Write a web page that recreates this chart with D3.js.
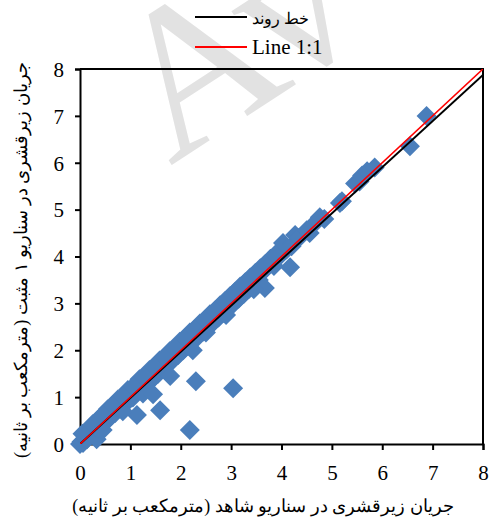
<!DOCTYPE html>
<html>
<head>
<meta charset="utf-8">
<script src="https://cdn.jsdelivr.net/npm/d3@7/dist/d3.min.js"></script>
<style>
  html, body { margin: 0; padding: 0; background: #fff; }
  svg { display: block; }
</style>
</head>
<body>
<svg id="chart" width="491" height="520"></svg>
<script>
// Observed (control scenario) subsurface flow, m3/s
const observed = [
  0.00, 0.03, 0.06, 0.10, 0.14, 0.18, 0.22, 0.26, 0.33, 0.32, 0.36, 0.40, 0.45,
  0.50, 0.54, 0.58, 0.62, 0.66, 0.70, 0.74, 0.78, 0.82, 0.86, 0.90, 0.95,
  1.00, 1.05, 1.10, 1.13, 1.15, 1.20, 1.25, 1.30, 1.35, 1.40, 1.45, 1.50,
  1.55, 1.59, 1.60, 1.65, 1.70, 1.75, 1.80, 1.85, 1.90, 1.95, 2.00, 2.05,
  2.10, 2.15, 2.18, 2.20, 2.24, 2.30, 2.30, 2.35, 2.40, 2.45, 2.50, 2.55,
  2.60, 2.65, 2.70, 2.75, 2.80, 2.85, 2.90, 2.95, 3.00, 3.04, 3.05, 3.10,
  3.15, 3.20, 3.25, 3.30, 3.35, 3.40, 3.50, 3.55, 3.60, 3.67, 3.70, 3.80,
  3.85, 3.90, 4.00, 4.03, 4.10, 4.17, 4.20, 4.27, 4.35, 4.50, 4.56, 4.65,
  4.76, 4.85, 5.16, 5.20, 5.46, 5.55, 5.60, 5.70, 5.85, 6.55, 6.88,
  0.15, 0.35, 0.55, 0.75, 0.95, 1.18, 1.38, 1.58, 1.78, 1.98, 2.18, 2.38,
  2.58, 2.78, 2.98, 3.18, 3.38, 3.58, 3.78, 3.95,
  0.05, 0.25, 0.45, 0.65, 0.85, 1.05, 1.28, 1.48, 1.68, 1.88, 2.08, 2.28,
  2.48, 2.68, 2.88, 3.08, 3.28, 3.48, 3.68, 3.88,
  0.45, 0.85, 1.25, 1.45, 1.79, 2.50, 2.90, 3.45
];
// Scenario 1 (positive) subsurface flow, m3/s
const scenario1 = [
  0.00, 0.05, 0.02, 0.12, 0.10, 0.22, 0.20, 0.30, 0.10, 0.36, 0.33, 0.45, 0.42,
  0.55, 0.50, 0.63, 0.60, 0.72, 0.66, 0.80, 0.76, 0.88, 0.82, 0.97, 0.92,
  1.06, 0.99, 1.17, 0.62, 1.12, 1.27, 1.20, 1.37, 1.30, 1.47, 1.40, 1.57,
  1.50, 0.72, 1.66, 1.60, 1.77, 1.70, 1.86, 1.80, 1.96, 1.90, 2.07, 2.00,
  2.16, 2.10, 0.30, 2.26, 2.00, 1.34, 2.36, 2.30, 2.46, 2.40, 2.56, 2.50,
  2.66, 2.60, 2.76, 2.70, 2.86, 2.80, 2.96, 2.90, 3.06, 1.19, 3.00, 3.16,
  3.10, 3.25, 3.20, 3.36, 3.30, 3.45, 3.55, 3.50, 3.66, 3.33, 3.75, 3.86,
  3.80, 3.95, 4.05, 4.29, 4.15, 3.77, 4.22, 4.46, 4.40, 4.56, 4.50, 4.70,
  4.84, 4.80, 5.14, 5.18, 5.56, 5.60, 5.73, 5.82, 5.90, 6.35, 7.00,
  0.30, 0.52, 0.74, 0.95, 1.15, 1.38, 1.58, 1.78, 1.98, 2.18, 2.38, 2.57,
  2.77, 2.96, 3.16, 3.36, 3.55, 3.75, 3.95, 4.12,
  0.22, 0.42, 0.62, 0.82, 1.02, 1.22, 1.45, 1.65, 1.85, 2.05, 2.25, 2.45,
  2.65, 2.85, 3.05, 3.25, 3.45, 3.65, 3.84, 4.03,
  0.30, 0.70, 1.08, 1.06, 1.45, 2.38, 2.75, 3.30
];
const tickValues = [0, 1, 2, 3, 4, 5, 6, 7, 8];
const trendSlope = 0.984;
const legendLabels = ["خط روند", "Line 1:1"];
const xTitle = "جریان زیرقشری در سناریو شاهد (مترمکعب بر ثانیه)";
const yTitle = "جریان زیرقشری در سناریو ۱ مثبت (مترمکعب بر ثانیه)";
const watermark = "Av";

const svg = d3.select("#chart");
const serif = "Liberation Serif, Times New Roman, DejaVu Serif, serif";

const x = d3.scaleLinear().domain([0, 8]).range([80, 483]);
const y = d3.scaleLinear().domain([0, 8]).range([444, 69]);

// faint background watermark
svg.append("text")
  .attr("transform", "translate(170,166) rotate(-33)")
  .attr("font-family", serif)
  .attr("font-size", 210)
  .attr("fill", "#e2e2e2")
  .text(watermark);

// plot frame (top and right)
svg.append("path")
  .attr("d", `M${x(0)},${y(8)}H${x(8)}V${y(0)}`)
  .attr("fill", "none").attr("stroke", "#000").attr("stroke-width", 2);

// axes
const xAxis = d3.axisBottom(x).tickValues(tickValues).tickSize(6).tickPadding(15).tickFormat(d3.format("d"));
const yAxis = d3.axisLeft(y).tickValues(tickValues).tickSize(5).tickPadding(11).tickFormat(d3.format("d"));

const gx = svg.append("g").attr("transform", `translate(0,${y(0)})`).call(xAxis);
const gy = svg.append("g").attr("transform", `translate(${x(0)},0)`).call(yAxis);
[gx, gy].forEach(g => {
  g.attr("font-family", serif).attr("font-size", 21);
  g.select(".domain").attr("stroke", "#000").attr("stroke-width", 2);
  g.selectAll(".tick line").attr("stroke", "#000").attr("stroke-width", 2);
  g.selectAll(".tick text").attr("fill", "#000");
});
gy.selectAll(".tick text").attr("dy", "0.35em");

// scatter points (diamonds)
const pts = observed.map((v, i) => ({ x: v, y: scenario1[i] }));
svg.append("clipPath").attr("id", "plotclip")
  .append("rect").attr("x", x(0)).attr("y", y(8)).attr("width", x(8) - x(0)).attr("height", y(0) - y(8));

svg.append("g").selectAll("path").data(pts).join("path")
  .attr("transform", d => `translate(${x(d.x)},${y(d.y)})`)
  .attr("d", "M0,-10L10,0L0,10L-10,0Z")
  .attr("fill", "#4a7ebb");

// trend line and 1:1 line
const line = d3.line().x(d => x(d[0])).y(d => y(d[1]));
const lines = svg.append("g").attr("clip-path", "url(#plotclip)");
lines.append("path").attr("d", line([[0, 0], [8, 8 * trendSlope]]))
  .attr("stroke", "#000").attr("stroke-width", 2).attr("fill", "none");
lines.append("path").attr("d", line([[0, 0], [8, 8]]))
  .attr("stroke", "#ff0000").attr("stroke-width", 1.6).attr("fill", "none");

// text helper: scale font so the string spans a given width
function fitText(sel, target) {
  const w = sel.node().getComputedTextLength();
  const fs = parseFloat(sel.attr("font-size"));
  sel.attr("font-size", fs * target / w);
}

// legend
const legend = svg.append("g");
const legendColors = ["#000", "#ff0000"];
const legendY = [17, 47];
const legendTextY = [24, 54];
legendLabels.forEach((lab, i) => {
  legend.append("line").attr("x1", 195).attr("x2", 247)
    .attr("y1", legendY[i]).attr("y2", legendY[i])
    .attr("stroke", legendColors[i]).attr("stroke-width", 2);
  const t = legend.append("text").attr("x", 252).attr("y", legendTextY[i])
    .attr("font-family", serif).attr("font-size", 21)
    .attr("fill", "#000").text(lab);
  if (i === 0) fitText(t, 59);
});

// axis titles
const xt = svg.append("text").attr("x", 263).attr("y", 512)
  .attr("text-anchor", "middle").attr("font-family", serif).attr("font-size", 18)
  .attr("fill", "#000").text(xTitle);
fitText(xt, 380);

const yt = svg.append("text").attr("transform", "translate(27,260) rotate(-90)")
  .attr("text-anchor", "middle").attr("font-family", serif).attr("font-size", 18)
  .attr("fill", "#000").text(yTitle);
fitText(yt, 405);
</script>
</body>
</html>
